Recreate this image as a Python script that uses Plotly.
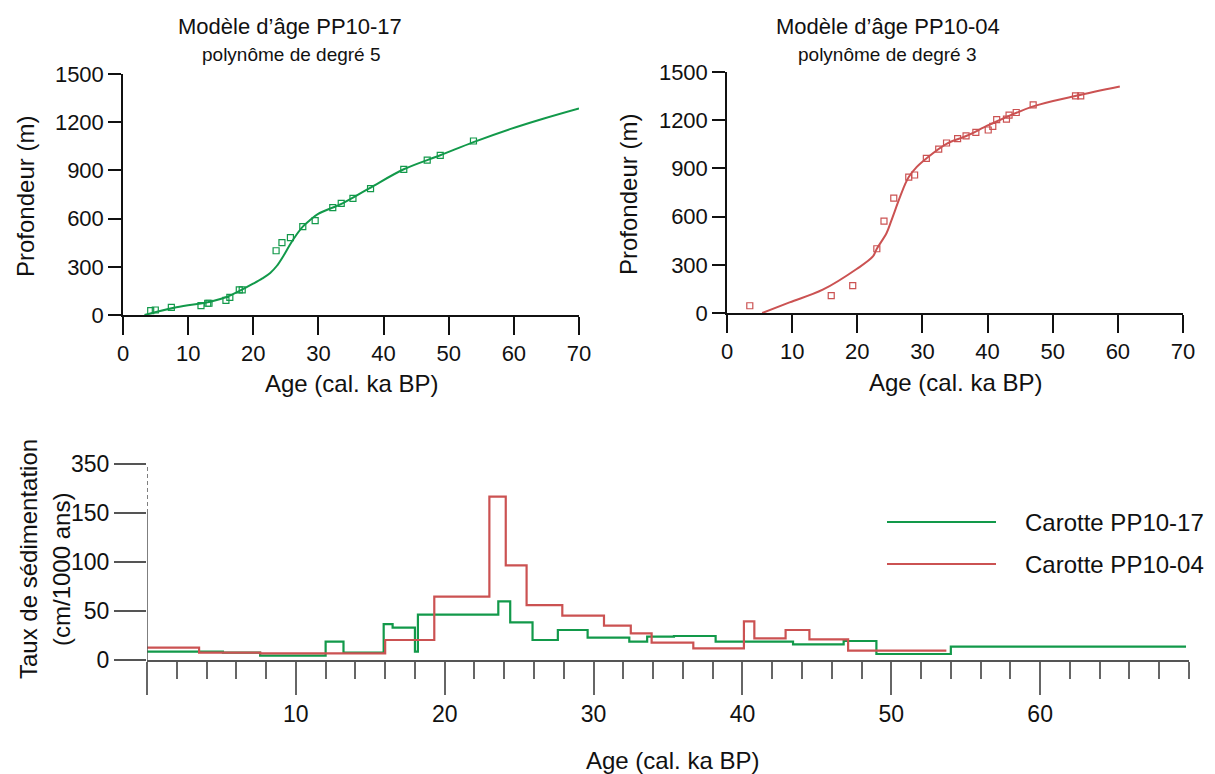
import plotly.graph_objects as go

# ---------------- DATA ----------------
# PP10-17 age model (dated levels)
pp17_age = [4.25, 4.96, 7.42, 11.97, 13.0, 13.2, 15.8, 16.4, 17.85, 18.3, 23.5, 24.4, 25.7,
            27.6, 29.5, 32.2, 33.5, 35.3, 38.0, 43.1, 46.7, 48.7, 53.8]
pp17_depth = [27, 31, 48, 58, 73, 73, 91, 110, 156, 156, 400, 450, 481,
              550, 587, 668, 695, 726, 786, 907, 964, 994, 1083]
# PP10-17 polynomial fit (degree 5)
pp17_fit_age = [3.3, 8.2, 13.4, 15.9, 17.9, 19.9, 21.4, 22.6, 23.6, 24.6, 25.6, 26.6, 27.6,
                28.6, 29.9, 33.7, 37.8, 43.1, 48.7, 53.8, 59.4, 64.5, 70.0]
pp17_fit_depth = [0, 48, 83, 112, 150, 193, 228, 262, 305, 366, 436, 498, 550,
                  587, 628, 695, 788, 907, 994, 1076, 1157, 1222, 1286]

# PP10-04 age model (dated levels)
pp04_age = [3.5, 16.0, 19.3, 23.0, 24.1, 25.6, 27.9, 28.8, 30.6, 32.5, 33.7, 35.4, 36.7,
            38.2, 40.1, 40.8, 41.4, 42.9, 43.3, 44.4, 47.0, 53.5, 54.3]
pp04_depth = [45, 108, 170, 400, 572, 715, 846, 859, 962, 1020, 1058, 1085, 1103,
              1124, 1139, 1161, 1203, 1207, 1232, 1248, 1296, 1352, 1352]
# PP10-04 polynomial fit (degree 3)
pp04_fit_age = [5.4, 9.6, 14.7, 19.9, 22.4, 23.0, 24.5, 25.2, 26.5, 27.3, 27.9, 29.1, 30.6,
                33.7, 36.8, 40.3, 47.0, 53.6, 60.3]
pp04_fit_depth = [0, 66, 145, 274, 352, 400, 498, 572, 716, 798, 846, 908, 962,
                  1053, 1103, 1172, 1286, 1352, 1410]

# Sedimentation rates (cm/1000 ans), step intervals (broken axis: label 350 at 200)
pp17_edges = [0, 5.1, 7.6, 12.0, 13.2, 15.9, 16.5, 18.0, 18.2, 23.6, 24.4, 25.9, 27.6,
              29.6, 32.4, 33.6, 35.4, 38.2, 43.4, 46.8, 49.0, 54.0, 69.8]
pp17_rate = [8.5, 7.5, 4.4, 18.7, 7.5, 36.7, 33.0, 8.5, 46.3, 59.9, 38.4, 20.4, 30.6,
             22.8, 18.7, 23.8, 24.5, 18.7, 16.0, 19.4, 6.1, 13.6]
pp04_edges = [0, 3.5, 7.6, 16.0, 19.3, 23.0, 24.1, 25.5, 27.9, 30.7, 32.5, 33.9, 36.7,
              40.1, 40.8, 42.9, 44.5, 47.1, 53.7]
pp04_rate = [12.6, 7.5, 6.8, 20.4, 64.6, 166.7, 96.6, 56.0, 45.2, 35.0, 27.2, 17.7, 11.9,
             39.5, 22.1, 30.6, 21.1, 9.5]

rate_tickvals = [0, 50, 100, 150, 200]
rate_ticktext = ["0", "50", "100", "150", "350"]
age_tickvals = [0, 10, 20, 30, 40, 50, 60]
age_ticktext = ["", "10", "20", "30", "40", "50", "60"]

GREEN = "#12994a"
RED = "#cb5252"
FONT = "Liberation Sans, Arial, sans-serif"
W, H = 1215, 774
OFF = 8  # page body margin in the browser

fig = go.Figure()

# Top-left
fig.add_trace(go.Scatter(x=pp17_fit_age, y=pp17_fit_depth, mode="lines", line=dict(color=GREEN, width=2, shape="spline"),
                         xaxis="x", yaxis="y", showlegend=False))
fig.add_trace(go.Scatter(x=pp17_age, y=pp17_depth, mode="markers",
                         marker=dict(symbol="square-open", size=6, color=GREEN, line=dict(width=1.2)),
                         xaxis="x", yaxis="y", showlegend=False))
# Top-right
fig.add_trace(go.Scatter(x=pp04_fit_age, y=pp04_fit_depth, mode="lines", line=dict(color=RED, width=2, shape="spline"),
                         xaxis="x2", yaxis="y2", showlegend=False))
fig.add_trace(go.Scatter(x=pp04_age, y=pp04_depth, mode="markers",
                         marker=dict(symbol="square-open", size=6, color=RED, line=dict(width=1.2)),
                         xaxis="x2", yaxis="y2", showlegend=False))
# Bottom steps
fig.add_trace(go.Scatter(x=pp17_edges, y=pp17_rate + [pp17_rate[-1]], mode="lines",
                         line=dict(color=GREEN, width=2.2, shape="hv"), xaxis="x3", yaxis="y3",
                         name="Carotte PP10-17", showlegend=False))
fig.add_trace(go.Scatter(x=pp04_edges, y=pp04_rate + [pp04_rate[-1]], mode="lines",
                         line=dict(color=RED, width=2.2, shape="hv"), xaxis="x3", yaxis="y3",
                         name="Carotte PP10-04", showlegend=False))

def px_x(p):
    return (p - OFF) / W

def px_y(p):
    return 1 - (p - OFF) / H

top_axis = dict(showgrid=False, zeroline=False, showline=True, linecolor="#111", linewidth=1.5,
                automargin=False,
                ticks="outside", tickcolor="#111", tickwidth=1.5, tickfont=dict(size=22, color="#111"))

fig.update_layout(
    template="none",
    width=W, height=H, autosize=False,
    margin=dict(l=0, r=0, t=0, b=0, pad=0),
    paper_bgcolor="white", plot_bgcolor="white",
    font=dict(family=FONT, color="#111"),
    xaxis=dict(domain=[px_x(123), px_x(579)], anchor="y", range=[0, 70], dtick=10, ticklen=18, **top_axis),
    yaxis=dict(domain=[px_y(315), px_y(74)], anchor="x", range=[0, 1500], dtick=300, ticklen=13, **top_axis),
    xaxis2=dict(domain=[px_x(727), px_x(1183)], anchor="y2", range=[0, 70], dtick=10, ticklen=18, **top_axis),
    yaxis2=dict(domain=[px_y(313), px_y(72)], anchor="x2", range=[0, 1500], dtick=300, ticklen=13, **top_axis),
    xaxis3=dict(domain=[px_x(147), px_x(1189)], anchor="y3", range=[0, 70], automargin=False,
                tickmode="array", tickvals=age_tickvals, ticktext=age_ticktext,
                ticks="outside", ticklen=33, tickwidth=1.5, tickcolor="#666",
                minor=dict(tickmode="linear", tick0=0, dtick=2, ticks="outside", ticklen=17,
                           tickwidth=1.5, tickcolor="#666"),
                showline=True, linecolor="#555", linewidth=1.5, showgrid=False, zeroline=False,
                tickfont=dict(size=23, color="#111")),
    yaxis3=dict(domain=[px_y(660), px_y(464)], anchor="x3", range=[0, 200], automargin=False,
                tickmode="array", tickvals=rate_tickvals, ticktext=rate_ticktext,
                ticks="outside", ticklen=32, tickwidth=1.5, tickcolor="#555",
                showline=False, showgrid=False, zeroline=False,
                tickfont=dict(size=23, color="#111")),
)

# broken y-axis line on bottom panel
fig.add_shape(type="line", xref="x3", yref="y3", x0=0, x1=0, y0=0, y1=150,
              line=dict(color="#555", width=1.5))
fig.add_shape(type="line", xref="x3", yref="y3", x0=0, x1=0, y0=150, y1=200,
              line=dict(color="#555", width=1.5, dash="4px,3px"))

# legend (manual)
fig.add_shape(type="line", xref="paper", yref="paper", x0=px_x(887), x1=px_x(996), y0=px_y(522), y1=px_y(522),
              line=dict(color=GREEN, width=2))
fig.add_shape(type="line", xref="paper", yref="paper", x0=px_x(887), x1=px_x(996), y0=px_y(564), y1=px_y(564),
              line=dict(color=RED, width=2))

ann = []
def A(text, x, y, size, angle=0, xanchor="center"):
    ann.append(dict(text=text, x=px_x(x), y=px_y(y), xref="paper", yref="paper", showarrow=False,
                    font=dict(size=size, family=FONT, color="#111"), textangle=angle,
                    xanchor=xanchor, yanchor="middle"))

A("Modèle d’âge PP10-17", 290, 27, 22)
A("polynôme de degré 5", 291, 54, 19)
A("Modèle d’âge PP10-04", 888, 27, 22)
A("polynôme de degré 3", 887, 54, 19)
A("Profondeur (m)", 25, 197, 24, -90)
A("Profondeur (m)", 628, 195, 24, -90)
A("Age (cal. ka BP)", 351, 383, 24)
A("Age (cal. ka BP)", 955, 382, 24)
A("Age (cal. ka BP)", 673, 760, 24)
A("Taux de sédimentation", 28, 559, 24, -90)
A("(cm/1000 ans)", 61, 570, 24, -90)
A("Carotte PP10-17", 1023, 522, 24, xanchor="left")
A("Carotte PP10-04", 1023, 564, 24, xanchor="left")
fig.update_layout(annotations=ann)

fig.write_html("out.html")
